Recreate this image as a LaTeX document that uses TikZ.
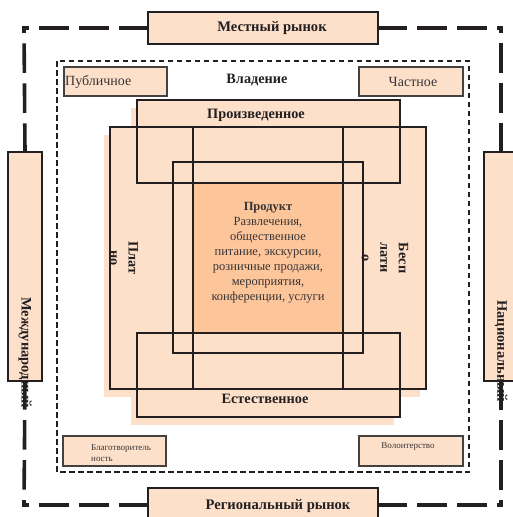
\documentclass[tikz,border=0pt]{standalone}
\usepackage{fontspec}
\setmainfont{Liberation Serif}
\definecolor{peach}{HTML}{FDE0CA}
\definecolor{apricot}{HTML}{FDC59A}
\definecolor{ink}{HTML}{231F20}
\begin{document}
\begin{tikzpicture}[x=1pt,y=-1pt,
  heavy/.style={draw=ink,line width=2.4pt},
  medium/.style={draw=ink,line width=1.9pt},
  outerline/.style={draw=ink,line width=3.6pt,line cap=rect,dash pattern=on 26pt off 14pt},
  innerdash/.style={draw=ink,line width=1.2pt,dash pattern=on 5.5pt off 3.5pt},
  tagbox/.style={draw=ink,line width=1.8pt,fill=peach,inner sep=0pt},
  smallbox/.style={draw=ink!85,line width=1.4pt,fill=peach,inner sep=0pt},
  boldlbl/.style={inner sep=0pt,text=ink,font=\fontsize{14.3}{18.5}\selectfont\bfseries},
  sidelbl/.style={inner sep=0pt,text=ink,font=\fontsize{14.5}{17}\selectfont\bfseries},
  mktlbl/.style={inner sep=0pt,text=ink,font=\fontsize{14.6}{17}\selectfont\bfseries},
  plainlbl/.style={inner sep=0pt,text=ink!90,font=\fontsize{12.5}{15}\selectfont},
  ownlbl/.style={inner sep=0pt,text=ink!90,font=\fontsize{14}{16}\selectfont},
  tinylbl/.style={inner sep=0pt,text=ink!90,font=\fontsize{9}{11}\selectfont}]
\useasboundingbox (0,0) rectangle (513,517);

% corners of the heavy dashed market frame
\coordinate (tl) at (24,28);
\coordinate (tr) at (501,28);
\coordinate (br) at (501,505);
\coordinate (bl) at (24,505);

% market boxes on the frame
\node[tagbox,minimum width=230pt,minimum height=32pt] (local) at (263,28) {};
\node[tagbox,minimum width=230pt,minimum height=34pt] (regional) at (263,505) {};
\node[tagbox,minimum width=34pt,minimum height=229pt] (intl) at (25,266.5) {};
\node[tagbox,minimum width=34pt,minimum height=229pt] (natl) at (501,266.5) {};

% the frame itself, dashed from each box towards the corners
\draw[outerline] (local.west) -- (tl);
\draw[outerline] (intl.north) -- (tl);
\draw[outerline] (local.east) -- (tr);
\draw[outerline] (natl.north) -- (tr);
\draw[outerline] (intl.south) -- (bl);
\draw[outerline] (regional.west) -- (bl);
\draw[outerline] (natl.south) -- (br);
\draw[outerline] (regional.east) -- (br);

\node[mktlbl] (localtxt) at (272,28) {Местный рынок};
\node[mktlbl] (regionaltxt) at (278,506) {Региональный рынок};
\node[sidelbl,rotate=-90,anchor=west] (intltxt) at (25,297) {Международный};
\node[sidelbl,rotate=-90,anchor=west] (natltxt) at (501,300) {Национальный};

% ownership frame
\draw[innerdash] (57,61) rectangle (469,472);
\node[smallbox,minimum width=103pt,minimum height=29pt] (public) at (115.5,81.5) {};
\node[smallbox,minimum width=104pt,minimum height=29pt] (private) at (411,81.5) {};
\node[smallbox,minimum width=103pt,minimum height=30pt] (charity) at (114.5,451) {};
\node[smallbox,minimum width=104pt,minimum height=30pt] (volunteer) at (411,451) {};
\node[ownlbl,anchor=west] (publictxt) at (65,82) {Публичное};
\node[ownlbl] (privatetxt) at (413,82) {Частное};
\node[boldlbl] (owner) at (257,80) {Владение};
\node[tinylbl,anchor=west,align=left] (charitytxt) at (91,453.5) {Благотворитель\\ность};
\node[tinylbl] (volunteertxt) at (408,447) {Волонтерство};

% central cross: offset shadow, then the fill
\begin{scope}[shift={(-6,8)}]
  \fill[peach] (137,100) rectangle (400,183);
  \fill[peach] (110,127) rectangle (426,389);
  \fill[peach] (137,333) rectangle (400,417);
\end{scope}
\fill[peach] (137,100) rectangle (400,183);
\fill[peach] (110,127) rectangle (426,389);
\fill[peach] (137,333) rectangle (400,417);
\fill[apricot] (193,183) rectangle (343,333);

% outlines of the cross
\draw[heavy] (137,100) rectangle (400,183);
\draw[heavy] (110,127) rectangle (426,389);
\draw[heavy] (193,127) -- (193,389);
\draw[heavy] (343,127) -- (343,389);
\draw[medium] (173,162) rectangle (363,353);
\draw[heavy] (137,333) rectangle (400,417);

\node[boldlbl] (made) at (256,115) {Произведенное};
\node[boldlbl] (natural) at (265,399) {Естественное};
\node[boldlbl,rotate=-90,align=center] (paid) at (124,258) {Плат\\но};
\node[boldlbl,rotate=-90,align=center] (free) at (385,258) {Бесп\\лати\\о};
\node[plainlbl,align=center] (product) at (268,252.5)
  {\textbf{Продукт}\\Развлечения,\\общественное\\питание, экскурсии,\\розничные продажи,\\мероприятия,\\конференции, услуги};
\end{tikzpicture}
\end{document}
